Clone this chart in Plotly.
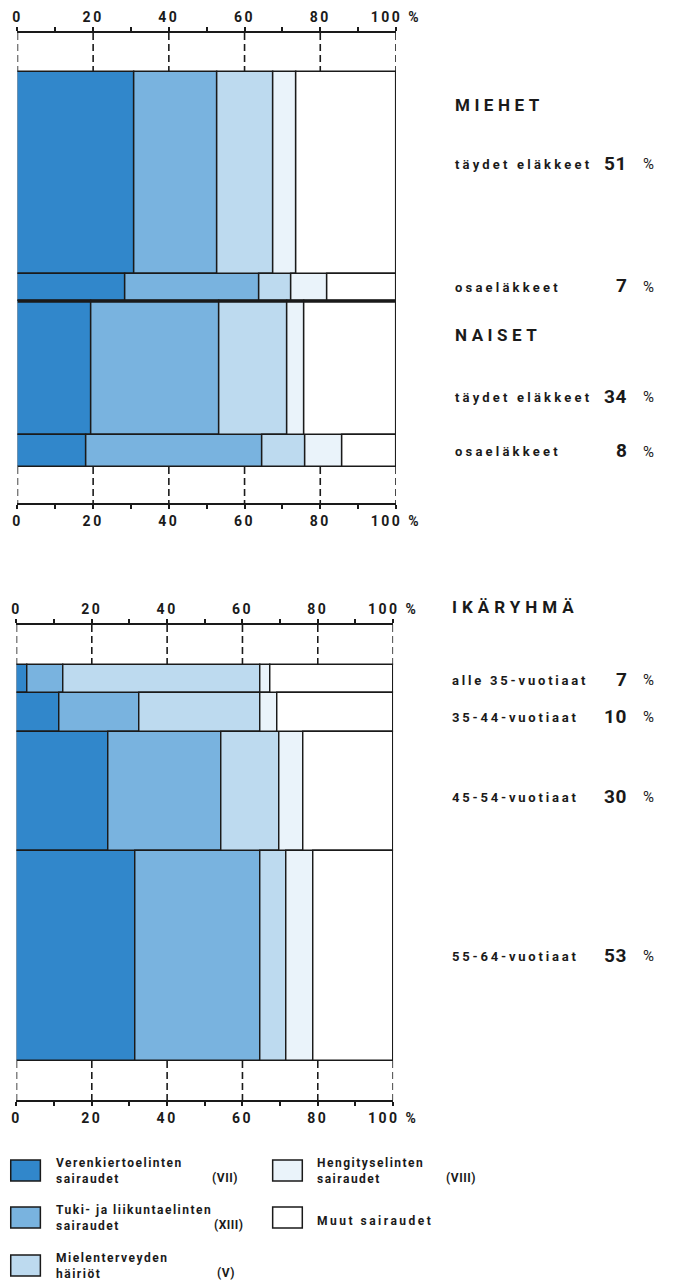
import plotly.graph_objects as go

# ---------------- data ----------------
causes = ["Verenkiertoelinten sairaudet", "Tuki- ja liikuntaelinten sairaudet",
          "Mielenterveyden häiriöt", "Hengityselinten sairaudet", "Muut sairaudet"]
legend_line1 = ["Verenkiertoelinten", "Tuki- ja liikuntaelinten", "Mielenterveyden",
                "Hengityselinten", "Muut sairaudet"]
legend_line2 = ["sairaudet", "sairaudet", "häiriöt", "sairaudet", ""]
cause_codes = ["(VII)", "(XIII)", "(V)", "(VIII)", ""]

tick_values = [0, 20, 40, 60, 80, 100]
tick_labels = ["0", "20", "40", "60", "80", "100 %"]

# Panel 1: gender / pension type
gender_headers = ["MIEHET", "NAISET"]
pension_gender = ["MIEHET", "MIEHET", "NAISET", "NAISET"]
pension_types = ["täydet eläkkeet", "osaeläkkeet", "täydet eläkkeet", "osaeläkkeet"]
pension_shares = [51, 7, 34, 8]
verenkierto_p = [30.8, 28.4, 19.6, 18.3]
tuki_p = [22.1, 35.5, 33.7, 46.4]
mielen_p = [14.8, 8.4, 18.0, 11.5]
hengitys_p = [6.1, 9.7, 4.5, 9.7]
muut_p = [26.2, 18.0, 24.2, 14.1]

# Panel 2: age groups
age_header = "IKÄRYHMÄ"
age_groups = ["alle 35-vuotiaat", "35-44-vuotiaat", "45-54-vuotiaat", "55-64-vuotiaat"]
age_shares = [7, 10, 30, 53]
verenkierto_a = [2.9, 11.5, 24.4, 31.7]
tuki_a = [9.5, 21.2, 30.1, 33.0]
mielen_a = [52.5, 32.2, 15.2, 7.1]
hengitys_a = [2.6, 4.4, 6.5, 7.1]
muut_a = [32.5, 30.7, 23.8, 21.1]

# ---------------- style ----------------
colors = ["#3187cb", "#79b3df", "#bddaef", "#eaf3fa", "#ffffff"]
W, H = 681, 1282
FONT = "Roboto"
INK = "#1a1a1a"

Y1_RANGE = [109.1, -9.9]
Y2_RANGE = [109.85, -10.1]


def px(x):
    return x / W


def py(y):
    return 1 - y / H


def spaced(t, s):
    return f'<span style="letter-spacing:{s}px">{t}</span>'


fig = go.Figure()


def add_panel(series, shares, xa, ya):
    centers, acc = [], 0
    for s in shares:
        centers.append(acc + s / 2)
        acc += s
    base = [0.0] * len(shares)
    for i, vals in enumerate(series):
        fig.add_trace(go.Bar(
            orientation="h", y=centers, x=vals, base=list(base), width=shares,
            marker=dict(color=colors[i], line=dict(color=INK, width=1.5)),
            name=causes[i], showlegend=False, xaxis=xa, yaxis=ya,
            hovertemplate="%{x:.1f} %<extra>" + causes[i] + "</extra>"))
        base = [b + v for b, v in zip(base, vals)]
    return acc


tot1 = add_panel([verenkierto_p, tuki_p, mielen_p, hengitys_p, muut_p], pension_shares, "x", "y")
tot2 = add_panel([verenkierto_a, tuki_a, mielen_a, hengitys_a, muut_a], age_shares, "x2", "y2")

# dashed guide lines between the axes and the bars, at the major ticks
for xa, ya, rng, tot in (("x", "y", Y1_RANGE, tot1), ("x2", "y2", Y2_RANGE, tot2)):
    for v in tick_values:
        for y0, y1 in ((rng[1], 0), (tot, rng[0])):
            fig.add_shape(type="line", xref=xa, yref=ya, x0=v, x1=v, y0=y0, y1=y1,
                          line=dict(color=INK, width=1.6, dash="7px,4px"), layer="below")

# thick separator between men and women
sep = sum(pension_shares[:2])
fig.add_shape(type="line", xref="x", yref="y", x0=0, x1=100, y0=sep, y1=sep,
              line=dict(color=INK, width=3))

ticktext = [spaced(t, 2.5) for t in tick_labels]
base_ax = dict(range=[0, 100], tickvals=tick_values, ticktext=ticktext,
               showline=True, linecolor=INK, linewidth=1.5, showgrid=False,
               ticks="outside", ticklen=4, tickwidth=1.5, tickcolor=INK,
               minor=dict(dtick=10, ticks="outside", ticklen=4, tickwidth=1.5,
                          tickcolor=INK, showgrid=False),
               zeroline=False, fixedrange=True,
               tickfont=dict(family=FONT, size=14, color=INK, weight="bold"))

fig.update_layout(
    width=W, height=H, autosize=False, margin=dict(l=0, r=0, t=0, b=0),
    paper_bgcolor="white", plot_bgcolor="rgba(0,0,0,0)",
    barmode="overlay", bargap=0,
    xaxis=dict(domain=[px(13), px(409)], side="top", anchor="y", **base_ax),
    xaxis3=dict(domain=[px(13), px(409)], side="bottom", anchor="y", overlaying="x", **base_ax),
    yaxis=dict(domain=[py(503), py(33)], range=Y1_RANGE, visible=False, fixedrange=True),
    xaxis2=dict(domain=[px(12), px(406)], side="top", anchor="y2", **base_ax),
    xaxis4=dict(domain=[px(12), px(406)], side="bottom", anchor="y2", overlaying="x2", **base_ax),
    yaxis2=dict(domain=[py(1100), py(625)], range=Y2_RANGE, visible=False, fixedrange=True),
    showlegend=False,
)

# empty traces so the overlaying bottom axes render
fig.add_trace(go.Scatter(x=[None], y=[None], xaxis="x3", yaxis="y", showlegend=False, hoverinfo="skip"))
fig.add_trace(go.Scatter(x=[None], y=[None], xaxis="x4", yaxis="y2", showlegend=False, hoverinfo="skip"))

ann = []


def label(x, y, text, size, anchor="left", sp=2, bold=True):
    ann.append(dict(x=px(x), y=py(y), xref="paper", yref="paper", text=spaced(text, sp),
                    showarrow=False, xanchor=anchor, yanchor="middle",
                    font=dict(family=FONT, size=size, color=INK,
                              weight="bold" if bold else "normal")))


# right-hand labels, panel 1
header_y = {"MIEHET": 105, "NAISET": 335}
row_y_p = [164, 287, 397, 452]
for h in gender_headers:
    label(469, header_y[h], h, 17, sp=4.5)
for i in range(4):
    label(469, row_y_p[i], pension_types[i], 13, sp=3.2)
    label(653, row_y_p[i] - 1, str(pension_shares[i]), 19, anchor="right", sp=0.5)
    label(673, row_y_p[i], "%", 15, anchor="center", sp=0, bold=False)

# right-hand labels, panel 2
label(465, 607, age_header, 17, sp=5)
row_y_a = [680, 717, 797, 956]
for i in range(4):
    label(466, row_y_a[i], age_groups[i], 13, sp=2.8)
    label(653, row_y_a[i] - 1, str(age_shares[i]), 19, anchor="right", sp=0.5)
    label(673, row_y_a[i], "%", 15, anchor="center", sp=0, bold=False)

# legend
legend_pos = [(6, 1160, 51, 214), (6, 1207, 51, 217), (6, 1255, 51, 220),
              (280, 1160, 324, 459), (280, 1207, 324, None)]
for i, (bx, by, tx, cx) in enumerate(legend_pos):
    fig.add_shape(type="rect", xref="paper", yref="paper",
                  x0=px(bx), x1=px(bx + 31), y0=py(by), y1=py(by + 21),
                  fillcolor=colors[i], line=dict(color=INK, width=1.5))
    cy = by + 10.5
    if legend_line2[i]:
        ann.append(dict(x=px(tx), y=py(cy), xref="paper", yref="paper",
                        text=spaced(legend_line1[i], 1.5) + "<br>" + spaced(legend_line2[i], 1.5),
                        showarrow=False, xanchor="left", yanchor="middle", align="left",
                        font=dict(family=FONT, size=12, color=INK, weight="bold")))
    else:
        label(tx, cy + 3, legend_line1[i], 12, sp=2.5)
    if cause_codes[i]:
        label(cx, cy + 7, cause_codes[i], 12, sp=0.5)

fig.update_layout(annotations=ann)

post = ("document.body.style.margin='0';document.body.style.padding='0';"
        "document.body.style.overflow='hidden';"
        "document.documentElement.style.overflow='hidden';")
fig.write_html("out.html", config={"responsive": False, "displayModeBar": False},
               post_script=post)
